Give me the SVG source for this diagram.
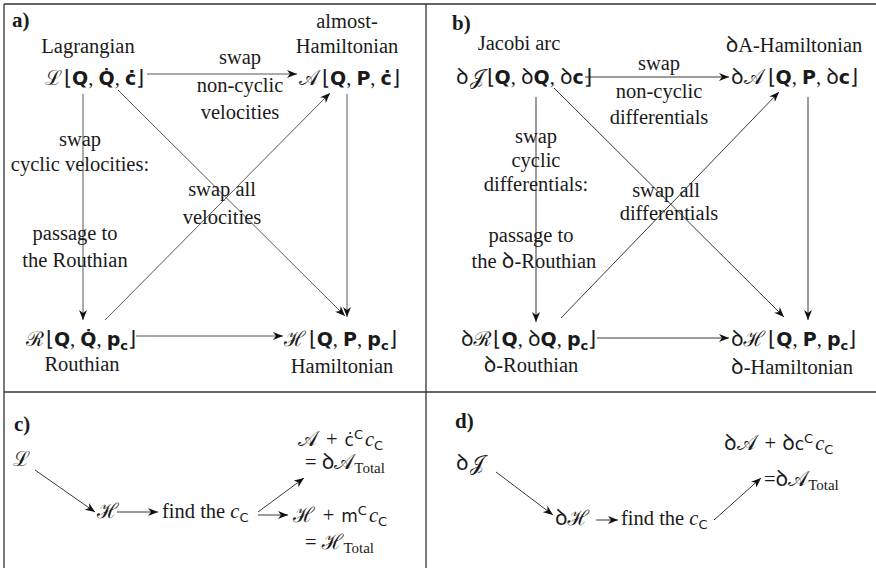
<svg xmlns="http://www.w3.org/2000/svg" width="876" height="568" viewBox="0 0 876 568">
<style>
text { font-family: "Liberation Serif", "Times New Roman", serif; font-size: 20.5px; fill: #1a1a1a; }
.c { text-anchor: middle; }
.hd { font-weight: bold; font-size: 21px; }
.scr { font-family: "DejaVu Serif", "Noto Sans", serif; }
.bf { font-family: "DejaVu Sans", "Liberation Sans", sans-serif; font-weight: bold; font-size: 19px; }
.sf { font-family: "DejaVu Sans", "Liberation Sans", sans-serif; font-size: 17px; }
.dd { font-family: "Noto Sans", "DejaVu Sans", sans-serif; font-size: 21px; }
.sm { font-size: 13px; }
.tt { font-size: 15px; }
.it { font-style: italic; }
.frame { stroke: #333; stroke-width: 1.3; fill: none; }
.e { stroke: #222; stroke-width: 0.9; fill: none; marker-end: url(#ah); }
.eg { stroke: #444; stroke-width: 0.9; fill: none; marker-end: url(#ah); }
</style>
<defs>
<marker id="ah" viewBox="0 0 10 8" refX="10" refY="4" markerWidth="10" markerHeight="8" orient="auto" markerUnits="userSpaceOnUse">
<path d="M0,0 L10,4 L0,8 L3,4 z" fill="#111"/>
</marker>
</defs>
<rect width="876" height="568" fill="#fff"/>
<g id="frame" class="frame">
<line x1="4" y1="4" x2="876" y2="4"/>
<line x1="4" y1="4" x2="4" y2="568"/>
<line x1="426" y1="4" x2="426" y2="568"/>
<line x1="4" y1="392" x2="876" y2="392"/>
</g>

<g id="connectors">
<!-- panel a -->
<line class="eg" x1="147" y1="74" x2="297" y2="74"/>
<line class="eg" x1="83" y1="94" x2="83" y2="320"/>
<line class="eg" x1="347" y1="94" x2="347" y2="317"/>
<line class="eg" x1="118" y1="90" x2="345" y2="316"/>
<line class="eg" x1="105" y1="320" x2="330" y2="93"/>
<line class="eg" x1="136" y1="336" x2="283" y2="336"/>
<!-- panel b -->
<line class="e" x1="585" y1="77" x2="729" y2="77"/>
<line class="e" x1="536" y1="97" x2="536" y2="322"/>
<line class="e" x1="808" y1="97" x2="808" y2="320"/>
<line class="e" x1="554" y1="88" x2="784" y2="317"/>
<line class="e" x1="561" y1="318" x2="779" y2="92"/>
<line class="e" x1="597" y1="338" x2="729" y2="338"/>
<!-- panel c -->
<line class="e" x1="35" y1="470" x2="95" y2="512"/>
<line class="e" x1="117" y1="512" x2="158" y2="512"/>
<line class="e" x1="258" y1="512" x2="304" y2="478"/>
<line class="e" x1="258" y1="515" x2="288" y2="515"/>
<!-- panel d -->
<line class="e" x1="496" y1="472" x2="553" y2="515"/>
<line class="e" x1="596" y1="520" x2="618" y2="520"/>
<line class="e" x1="714" y1="520" x2="761" y2="478"/>
</g>

<g id="panel-a">
<text id="label-a" x="12" y="27" class="hd">a)</text>
<g id="node-L">
<text x="88" y="53" class="c">Lagrangian</text>
<text x="45" y="85"><tspan class="scr">ℒ</tspan><tspan dx="2">⌊</tspan><tspan class="bf">Q</tspan>, <tspan class="bf">Q̇</tspan>, <tspan class="bf">ċ</tspan>⌋</text>
</g>
<g id="node-A">
<text x="347" y="28" class="c">almost-</text>
<text x="347" y="53" class="c">Hamiltonian</text>
<text x="299" y="85"><tspan class="scr">𝒜</tspan><tspan dx="3">⌊</tspan><tspan class="bf">Q</tspan>, <tspan class="bf">P</tspan>, <tspan class="bf">ċ</tspan>⌋</text>
</g>
<g id="node-R">
<text x="26" y="346"><tspan class="scr">ℛ</tspan><tspan dx="2">⌊</tspan><tspan class="bf">Q</tspan>, <tspan class="bf">Q̇</tspan>, <tspan class="bf">p</tspan><tspan class="bf sm" dy="4">c</tspan><tspan dy="-4">⌋</tspan></text>
<text x="82" y="371" class="c">Routhian</text>
</g>
<g id="node-H">
<text x="284" y="346"><tspan class="scr">ℋ</tspan><tspan dx="3">⌊</tspan><tspan class="bf">Q</tspan>, <tspan class="bf">P</tspan>, <tspan class="bf">p</tspan><tspan class="bf sm" dy="4">c</tspan><tspan dy="-4">⌋</tspan></text>
<text x="342" y="373" class="c">Hamiltonian</text>
</g>
<g id="labels-a">
<text x="240" y="64" class="c">swap</text>
<text x="240" y="92" class="c">non-cyclic</text>
<text x="240" y="119" class="c">velocities</text>
<text x="80" y="146" class="c">swap</text>
<text x="80" y="171" class="c">cyclic velocities:</text>
<text x="222" y="196" class="c">swap all</text>
<text x="222" y="224" class="c">velocities</text>
<text x="75" y="240" class="c">passage to</text>
<text x="75" y="267" class="c">the Routhian</text>
</g>
</g>

<g id="panel-b">
<text id="label-b" x="452" y="30" class="hd">b)</text>
<g id="node-J">
<text x="519" y="50" class="c">Jacobi arc</text>
<text x="456" y="84"><tspan class="dd">ꝺ</tspan><tspan class="scr" dx="1">𝒥</tspan><tspan dx="3">⌊</tspan><tspan class="bf">Q</tspan>, <tspan class="dd">ꝺ</tspan><tspan class="bf">Q</tspan>, <tspan class="dd">ꝺ</tspan><tspan class="bf">c</tspan>⌋</text>
</g>
<g id="node-dA">
<text x="794" y="52" class="c"><tspan class="dd">ꝺ</tspan>A-Hamiltonian</text>
<text x="731" y="84"><tspan class="dd">ꝺ</tspan><tspan class="scr">𝒜</tspan><tspan dx="4">⌊</tspan><tspan class="bf">Q</tspan>, <tspan class="bf">P</tspan>, <tspan class="dd">ꝺ</tspan><tspan class="bf">c</tspan>⌋</text>
</g>
<g id="node-dR">
<text x="461" y="346"><tspan class="dd">ꝺ</tspan><tspan class="scr">ℛ</tspan><tspan dx="2">⌊</tspan><tspan class="bf">Q</tspan>, <tspan class="dd">ꝺ</tspan><tspan class="bf">Q</tspan>, <tspan class="bf">p</tspan><tspan class="bf sm" dy="4">c</tspan><tspan dy="-4">⌋</tspan></text>
<text x="531" y="372" class="c"><tspan class="dd">ꝺ</tspan>-Routhian</text>
</g>
<g id="node-dH">
<text x="731" y="346"><tspan class="dd">ꝺ</tspan><tspan class="scr">ℋ</tspan><tspan dx="3">⌊</tspan><tspan class="bf">Q</tspan>, <tspan class="bf">P</tspan>, <tspan class="bf">p</tspan><tspan class="bf sm" dy="4">c</tspan><tspan dy="-4">⌋</tspan></text>
<text x="792" y="374" class="c"><tspan class="dd">ꝺ</tspan>-Hamiltonian</text>
</g>
<g id="labels-b">
<text x="659" y="70" class="c">swap</text>
<text x="659" y="98" class="c">non-cyclic</text>
<text x="659" y="124" class="c">differentials</text>
<text x="536" y="143" class="c">swap</text>
<text x="536" y="167" class="c">cyclic</text>
<text x="536" y="191" class="c">differentials:</text>
<text x="666" y="197" class="c">swap all</text>
<text x="669" y="220" class="c">differentials</text>
<text x="531" y="242" class="c">passage to</text>
<text x="534" y="268" class="c">the <tspan class="dd">ꝺ</tspan>-Routhian</text>
</g>
</g>

<g id="panel-c">
<text id="label-c" x="14" y="431" class="hd">c)</text>
<g id="node-cL"><text x="13" y="466" class="scr">ℒ</text></g>
<g id="node-cH"><text x="97" y="518" class="scr">ℋ</text></g>
<g id="node-cfind"><text x="162" y="518">find the <tspan class="it">c</tspan><tspan class="sf sm" dy="4">C</tspan></text></g>
<g id="node-cA">
<text x="298" y="446"><tspan class="scr">𝒜</tspan><tspan dx="8">+</tspan><tspan class="sf" dx="7">ċ</tspan><tspan class="sf sm" dy="-7">C</tspan><tspan class="it" dy="7" dx="2">c</tspan><tspan class="sf sm" dy="4">C</tspan></text>
<text x="305" y="469">= <tspan class="dd">ꝺ</tspan><tspan class="scr">𝒜</tspan><tspan class="tt" dy="4">Total</tspan></text>
</g>
<g id="node-cHt">
<text x="293" y="522"><tspan class="scr">ℋ</tspan><tspan dx="8">+</tspan><tspan class="sf" dx="7">m</tspan><tspan class="sf sm" dy="-7">C</tspan><tspan class="it" dy="7" dx="2">c</tspan><tspan class="sf sm" dy="4">C</tspan></text>
<text x="305" y="549">= <tspan class="scr">ℋ</tspan><tspan class="tt" dy="4">Total</tspan></text>
</g>
</g>

<g id="panel-d">
<text id="label-d" x="455" y="428" class="hd">d)</text>
<g id="node-dJ"><text x="456" y="470"><tspan class="dd">ꝺ</tspan><tspan class="scr" dx="1">𝒥</tspan></text></g>
<g id="node-ddH"><text x="555" y="525"><tspan class="dd">ꝺ</tspan><tspan class="scr">ℋ</tspan></text></g>
<g id="node-dfind"><text x="621" y="525">find the <tspan class="it">c</tspan><tspan class="sf sm" dy="4">C</tspan></text></g>
<g id="node-dAt">
<text x="724" y="450"><tspan class="dd">ꝺ</tspan><tspan class="scr">𝒜</tspan><tspan dx="8">+</tspan><tspan class="dd" dx="6">ꝺ</tspan><tspan class="sf">c</tspan><tspan class="sf sm" dy="-7">C</tspan><tspan class="it" dy="7" dx="2">c</tspan><tspan class="sf sm" dy="4">C</tspan></text>
<text x="764" y="486">=<tspan class="dd">ꝺ</tspan><tspan class="scr">𝒜</tspan><tspan class="tt" dy="4">Total</tspan></text>
</g>
</g>
</svg>
